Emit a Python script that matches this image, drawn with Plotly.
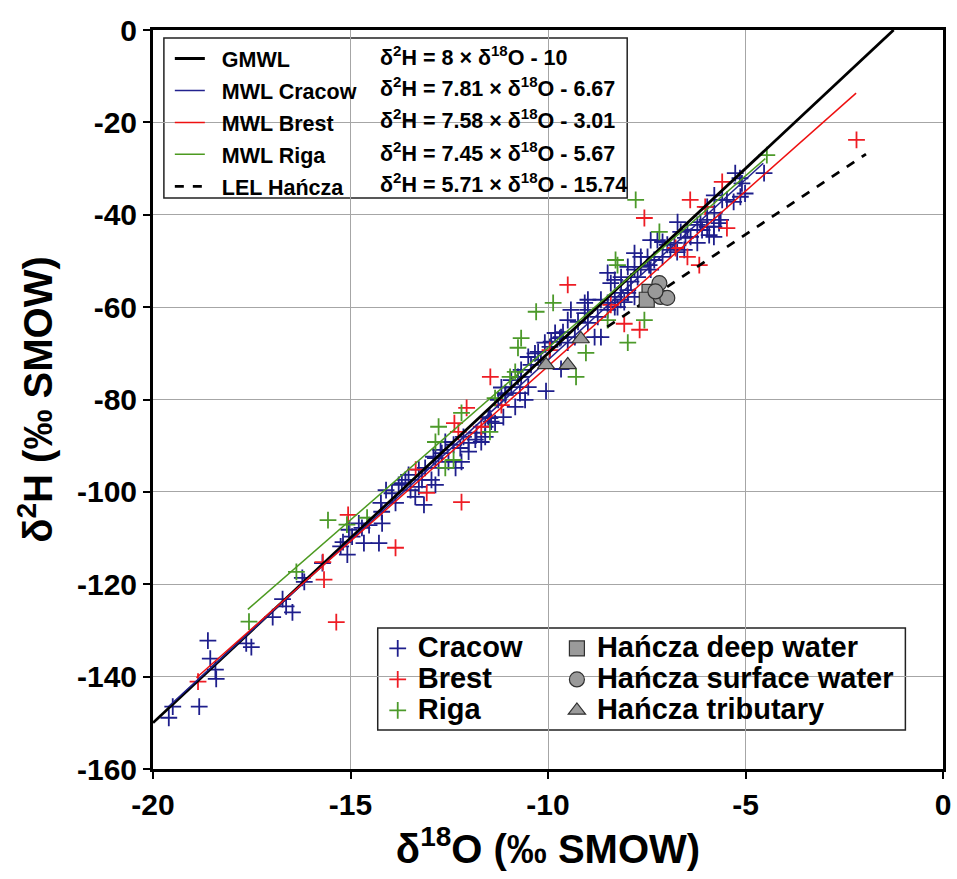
import plotly.graph_objects as go

# ---------------- data ----------------
cracow_x = [-19.60,-19.50,-18.83,-18.61,-18.55,-18.42,-18.40,-17.64,-17.51,-16.97,-16.72,-16.63,-16.47,
            -16.22,-16.17,-15.71,-15.25,-15.19,-15.08,-15.04,-14.96,-14.79,-14.71,-14.53,-14.66,-14.28,-14.20,
            -14.21,-14.23,-14.10,-13.95,-13.86,-13.78,-13.70,-13.61,-13.53,-13.48,-13.36,-13.27,-13.27,-13.14,
            -13.19,-13.11,-12.95,-12.85,-12.90,-12.77,-12.72,-12.60,-12.52,-12.39,-12.34,-12.22,-12.19,-12.14,
            -12.01,-12.01,-11.84,-11.81,-11.69,-11.59,-11.59,-11.47,-11.44,-11.34,-11.51,-11.26,-11.13,-11.08,
            -11.08,-11.18,-10.93,-10.93,-10.83,-10.76,-10.71,-10.68,-10.68,-10.58,-10.50,-10.50,-10.43,-10.33,
            -10.25,-10.18,-10.08,-10.05,-9.95,-9.92,-9.82,-9.70,-9.67,-9.62,-9.67,-9.50,-9.50,-9.42,-9.32,-9.24,
            -9.07,-9.07,-8.99,-8.99,-8.99,-8.82,-8.74,-8.66,-8.66,-8.49,-8.49,-8.49,-8.41,-8.31,-8.31,-8.31,
            -8.24,-8.15,-8.15,-8.16,-8.07,-7.98,-7.98,-7.98,-7.90,-7.81,-7.81,-7.81,-7.73,-7.65,-7.65,-7.48,
            -7.44,-7.40,-7.40,-7.31,-7.23,-7.10,-7.10,-6.98,-6.90,-6.80,-6.73,-6.72,-6.64,-6.55,-6.52,-6.47,
            -6.39,-6.22,-6.22,-6.14,-6.10,-5.97,-5.97,-5.97,-5.92,-5.80,-5.80,-5.79,-5.79,-5.67,-5.63,-5.59,
            -5.47,-5.30,-5.26,-5.14,-5.13,-5.09,-5.01,-4.53,-12.85,-12.69]
cracow_y = [-148.9,-146.5,-146.5,-132.2,-136.1,-138.5,-140.5,-132.8,-133.6,-127.1,-123.2,-124.8,-126.1,
            -118.6,-119.5,-115.4,-111.8,-110.9,-113.6,-108.2,-109.7,-106.8,-107.8,-107.2,-111.1,-111.1,-106.8,
            -104.3,-102.4,-99.6,-100.3,-102.4,-98.5,-98.1,-97.4,-96.3,-99.6,-101.1,-95.2,-98.9,-102.8,
            -97.4,-94.8,-97.4,-98.5,-92.4,-94.8,-90.9,-89.2,-93.5,-89.8,-94.8,-90.5,-93.5,-88.1,
            -91.3,-89.4,-88.7,-87.2,-89.2,-85.9,-88.1,-84.0,-84.8,-85.1,-83.8,-80.1,-83.8,-78.6,
            -79.0,-77.4,-77.3,-75.8,-81.6,-75.1,-78.6,-73.6,-75.1,-80.1,-77.3,-70.8,-72.5,-70.0,
            -69.7,-71.4,-67.7,-78.2,-68.6,-67.5,-65.6,-66.7,-66.5,-65.4,-73.4,-67.7,-62.8,-60.6,-66.5,-63.2,
            -61.3,-59.1,-58.4,-60.6,-63.4,-66.5,-62.1,-66.5,-58.4,-60.6,-59.1,-52.6,-54.8,-60.0,-54.1,-57.8,
            -60.0,-53.5,-56.9,-58.4,-58.9,-56.9,-51.3,-56.3,-54.5,-48.3,-51.9,-57.8,-53.5,-49.1,-51.3,-49.1,
            -50.9,-51.9,-45.5,-49.8,-45.5,-45.9,-49.1,-46.5,-47.6,-46.1,-48.1,-41.6,-43.7,-47.6,-45.0,-43.3,
            -44.8,-46.1,-42.2,-41.6,-43.3,-42.6,-41.1,-38.3,-44.4,-44.8,-42.6,-39.6,-35.8,-41.8,-41.1,-36.8,
            -36.8,-37.2,-31.0,-32.1,-36.1,-33.2,-35.4,-31.0,-92.7,-91.6]

brest_x = [-18.86,-15.67,-15.70,-15.36,-15.06,-13.86,-13.35,-13.07,-12.37,-12.27,-12.19,-12.06,-11.69,
           -11.46,-11.18,-9.95,-9.50,-8.41,-8.07,-7.68,-7.56,-6.77,-6.47,-6.40,-6.17,-6.02,-5.59,-5.47,-2.19]
brest_y = [-141.1,-119.0,-115.2,-128.2,-105.0,-112.1,-95.2,-100.2,-85.1,-87.0,-102.2,-81.8,-85.9,
           -75.1,-81.2,-69.3,-55.2,-59.5,-63.6,-64.9,-40.7,-47.2,-49.1,-36.8,-50.9,-38.3,-32.9,-42.9,-23.8]

riga_x = [-17.57,-16.37,-15.57,-15.09,-14.58,-12.85,-12.77,-12.60,-12.39,-12.19,-11.47,-11.34,-10.96,
          -10.83,-10.76,-10.68,-10.30,-9.87,-9.29,-9.04,-8.49,-8.29,-8.24,-7.98,-7.78,-7.56,-7.18,-4.46]
riga_y = [-128.1,-117.3,-106.1,-107.1,-105.6,-89.2,-85.9,-94.8,-93.1,-82.9,-87.0,-79.7,-75.1,
          -74.0,-68.8,-66.7,-61.0,-59.1,-75.1,-69.9,-62.8,-49.8,-50.9,-67.7,-36.8,-62.8,-43.7,-27.1]

deep_x = [-7.43, -7.50]
deep_y = [-56.7, -58.4]
surface_x = [-7.18, -7.15, -6.98, -7.28]
surface_y = [-54.8, -57.8, -58.0, -56.6]
trib_x = [-10.05, -9.50, -9.17]
trib_y = [-72.5, -72.5, -66.9]

line_names = ["GMWL", "MWL Cracow", "MWL Brest", "MWL Riga", "LEL Hańcza"]
line_slopes = [8.0, 7.81, 7.58, 7.45, 5.71]
line_intercepts = [10.0, 6.67, 3.01, 5.67, -15.74]
line_x_start = [-20.0, -19.6, -18.9, -17.6, -8.5]
line_x_end = [-1.25, -4.55, -2.2, -4.5, -1.95]
line_equations = [
    "δ<sup>2</sup>H = 8 × δ<sup>18</sup>O - 10",
    "δ<sup>2</sup>H = 7.81 × δ<sup>18</sup>O - 6.67",
    "δ<sup>2</sup>H = 7.58 × δ<sup>18</sup>O - 3.01",
    "δ<sup>2</sup>H = 7.45 × δ<sup>18</sup>O - 5.67",
    "δ<sup>2</sup>H = 5.71 × δ<sup>18</sup>O - 15.74",
]

x_ticks = [-20, -15, -10, -5, 0]
y_ticks = [0, -20, -40, -60, -80, -100, -120, -140, -160]

# ---------------- style ----------------
FONT = "Liberation Sans, Arial, sans-serif"
NAVY = "#1e1e8c"
RED = "#ee1c24"
GREEN = "#4c9a2a"
GRAY = "#9a9a9a"
line_colors = ["#000000", "#22228e", "#ee1010", "#4c9a20", "#000000"]
line_widths = [2.8, 1.5, 1.5, 1.5, 2.8]
line_dash = ["solid", "solid", "solid", "solid", "dash"]

W, H = 957, 879
ML, MR, MT, MB = 153, 6, 30, 110
PW = W - ML - MR
PH = H - MT - MB
LEG_BIG = 29


def px2x(px):
    return (px - ML) / PW


def py2y(py):
    return (H - MB - py) / PH


def big(txt):
    return '<span style="font-size:%dpx">%s</span>' % (LEG_BIG, txt)


fig = go.Figure()

for name, xs, ys, col in [("Cracow", cracow_x, cracow_y, NAVY),
                          ("Brest", brest_x, brest_y, RED),
                          ("Riga", riga_x, riga_y, GREEN)]:
    fig.add_trace(go.Scatter(
        x=xs, y=ys, mode="markers", name=big(name), legend="legend2",
        marker=dict(symbol="cross-thin", size=12, line=dict(color=col, width=1.8), color=col),
    ))

for i, nm in enumerate(line_names):
    x0, x1 = line_x_start[i], line_x_end[i]
    fig.add_trace(go.Scatter(
        x=[x0, x1],
        y=[line_slopes[i] * x0 + line_intercepts[i], line_slopes[i] * x1 + line_intercepts[i]],
        mode="lines", name="\u00a0\u00a0" + nm, legend="legend", legendgroup=nm,
        line=dict(color=line_colors[i], width=line_widths[i], dash=line_dash[i]),
    ))

for name, xs, ys, sym in [("Hańcza deep water", deep_x, deep_y, "square"),
                          ("Hańcza surface water", surface_x, surface_y, "circle"),
                          ("Hańcza tributary", trib_x, trib_y, "triangle-up")]:
    fig.add_trace(go.Scatter(
        x=xs, y=ys, mode="markers", name=big(name), legend="legend3",
        marker=dict(symbol=sym, size=15, color=GRAY, line=dict(color="#303030", width=1.2)),
    ))

annotations = []
row_py = [56, 87, 119, 152, 183]
for eq, py in zip(line_equations, row_py):
    annotations.append(dict(
        text=eq, xref="paper", yref="paper", x=px2x(380), y=py2y(py),
        xanchor="left", yanchor="middle", showarrow=False,
        font=dict(family=FONT, size=21.5, color="black", weight="bold"),
    ))

shapes = [
    dict(type="rect", xref="paper", yref="paper", x0=px2x(164), x1=px2x(632), y0=py2y(198), y1=py2y(38),
         line=dict(color="#222222", width=1.5), fillcolor="white", layer="below"),
    dict(type="rect", xref="paper", yref="paper", x0=px2x(380), x1=px2x(913), y0=py2y(730), y1=py2y(628),
         line=dict(color="#222222", width=1.5), fillcolor="white", layer="below"),
]

axis_common = dict(
    showgrid=True, gridcolor="#a6a6a6", gridwidth=1.3, zeroline=False,
    showline=True, linecolor="black", linewidth=3, mirror=True,
    ticks="outside", ticklen=7, tickwidth=2, tickcolor="black",
    tickfont=dict(family=FONT, size=30, color="black", weight="bold"),
    ticklabeloverflow="allow",
)

fig.update_layout(
    width=W, height=H,
    margin=dict(l=ML, r=MR, t=MT, b=MB),
    paper_bgcolor="white", plot_bgcolor="white",
    xaxis=dict(range=[-20, 0], tickvals=x_ticks, ticktext=[str(v) for v in x_ticks],
               title=dict(text="δ<sup>18</sup>O (‰ SMOW)", standoff=10,
                          font=dict(family=FONT, size=40, color="black", weight="bold")),
               **axis_common),
    yaxis=dict(range=[-160, 0], tickvals=y_ticks, ticktext=[str(v) for v in y_ticks],
               title=dict(text="δ<sup>2</sup>H (‰ SMOW)", standoff=12,
                          font=dict(family=FONT, size=40, color="black", weight="bold")),
               **axis_common),
    legend=dict(x=px2x(170), y=py2y(38), xanchor="left", yanchor="top",
                bgcolor="rgba(0,0,0,0)", borderwidth=0, tracegroupgap=1,
                font=dict(family=FONT, size=21.5, color="black", weight="bold")),
    legend2=dict(x=px2x(380), y=py2y(628), xanchor="left", yanchor="top",
                 bgcolor="rgba(0,0,0,0)", borderwidth=0,
                 font=dict(family=FONT, size=21.5, color="black", weight="bold")),
    legend3=dict(x=px2x(561), y=py2y(628), xanchor="left", yanchor="top",
                 bgcolor="rgba(0,0,0,0)", borderwidth=0,
                 font=dict(family=FONT, size=21.5, color="black", weight="bold")),
    annotations=annotations,
    shapes=shapes,
)

fig.write_html("out.html")
